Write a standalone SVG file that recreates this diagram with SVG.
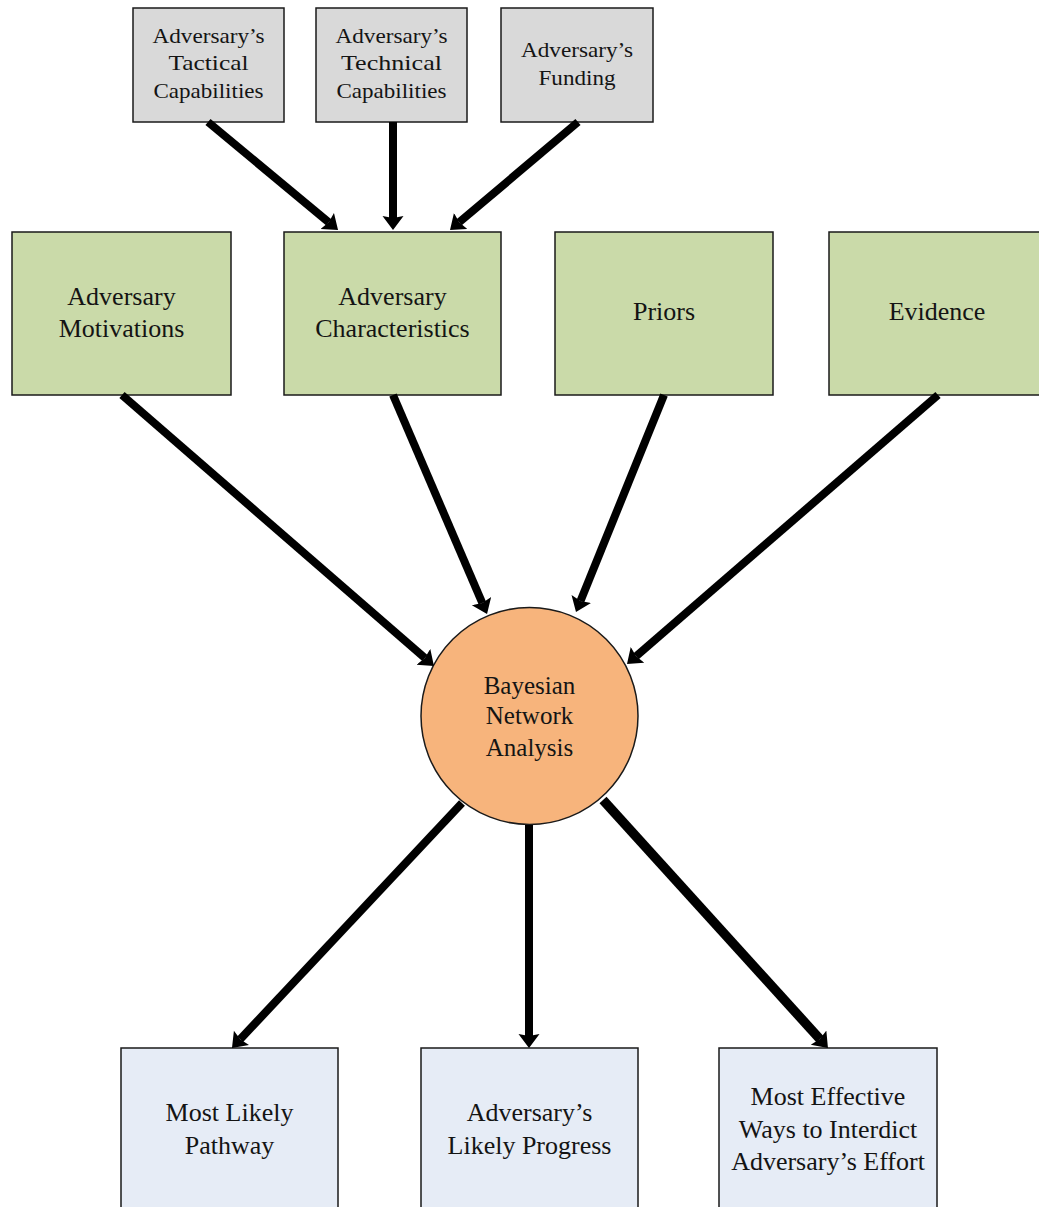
<svg xmlns="http://www.w3.org/2000/svg" width="1039" height="1207" viewBox="0 0 1039 1207">
  <style>
    .box { stroke: #1a1a1a; stroke-width: 1.5; }
    .gray { fill: #d9d9d9; }
    .green { fill: #cadaa9; }
    .blue { fill: #e6ecf6; }
    .orange { fill: #f7b47c; stroke: #1a1a1a; stroke-width: 1.5; }
    text { font-family: "Liberation Serif", "Times New Roman", serif; fill: #141414; text-anchor: middle; }
    .t-small { font-size: 22px; }
    .t-mid { font-size: 26px; }
    .t-circ { font-size: 25px; }
    .t-out { font-size: 26px; }
    .link { stroke: #000; stroke-width: 8; fill: none; marker-end: url(#head); }
    .heavy { stroke-width: 9.5; }
  </style>
  <defs>
    <marker id="head" markerUnits="userSpaceOnUse" markerWidth="16" markerHeight="22" refX="2" refY="10.5" orient="auto">
      <path d="M0,0 L14,10.5 L0,21 L2,10.5 z" fill="#000"/>
    </marker>
  </defs>
  <rect width="1039" height="1207" fill="#fff"/>

  <!-- capability / funding inputs -->
  <g id="tactical">
    <rect class="box gray" x="133" y="8" width="151" height="114"/>
    <text class="t-small" x="208.5" y="43" textLength="112" lengthAdjust="spacingAndGlyphs">Adversary’s</text>
    <text class="t-small" x="208.5" y="70" textLength="80" lengthAdjust="spacingAndGlyphs">Tactical</text>
    <text class="t-small" x="208.5" y="98" textLength="110" lengthAdjust="spacingAndGlyphs">Capabilities</text>
  </g>
  <g id="technical">
    <rect class="box gray" x="316" y="8" width="151" height="114"/>
    <text class="t-small" x="391.5" y="43" textLength="112" lengthAdjust="spacingAndGlyphs">Adversary’s</text>
    <text class="t-small" x="391.5" y="70" textLength="101" lengthAdjust="spacingAndGlyphs">Technical</text>
    <text class="t-small" x="391.5" y="98" textLength="110" lengthAdjust="spacingAndGlyphs">Capabilities</text>
  </g>
  <g id="funding">
    <rect class="box gray" x="501" y="8" width="152" height="114"/>
    <text class="t-small" x="577" y="57" textLength="112" lengthAdjust="spacingAndGlyphs">Adversary’s</text>
    <text class="t-small" x="577" y="85" textLength="77" lengthAdjust="spacingAndGlyphs">Funding</text>
  </g>

  <!-- model inputs -->
  <g id="motivations">
    <rect class="box green" x="12" y="232" width="219" height="163"/>
    <text class="t-mid" x="121.5" y="305">Adversary</text>
    <text class="t-mid" x="121.5" y="337">Motivations</text>
  </g>
  <g id="characteristics">
    <rect class="box green" x="284" y="232" width="217" height="163"/>
    <text class="t-mid" x="392.5" y="305">Adversary</text>
    <text class="t-mid" x="392.5" y="337">Characteristics</text>
  </g>
  <g id="priors">
    <rect class="box green" x="555" y="232" width="218" height="163"/>
    <text class="t-mid" x="664" y="320">Priors</text>
  </g>
  <g id="evidence">
    <rect class="box green" x="829" y="232" width="216" height="163"/>
    <text class="t-mid" x="937" y="320">Evidence</text>
  </g>

  <!-- analysis -->
  <g id="bayesian">
    <circle class="orange" cx="529.5" cy="716" r="108.5"/>
    <text class="t-circ" x="529.5" y="694">Bayesian</text>
    <text class="t-circ" x="529.5" y="724">Network</text>
    <text class="t-circ" x="529.5" y="756">Analysis</text>
  </g>

  <!-- outputs -->
  <g id="pathway">
    <rect class="box blue" x="121" y="1048" width="217" height="170"/>
    <text class="t-out" x="229.5" y="1121">Most Likely</text>
    <text class="t-out" x="229.5" y="1154">Pathway</text>
  </g>
  <g id="progress">
    <rect class="box blue" x="421" y="1048" width="217" height="170"/>
    <text class="t-out" x="529.5" y="1121">Adversary’s</text>
    <text class="t-out" x="529.5" y="1154">Likely Progress</text>
  </g>
  <g id="interdict">
    <rect class="box blue" x="719" y="1048" width="218" height="170"/>
    <text class="t-out" x="828" y="1105">Most Effective</text>
    <text class="t-out" x="828" y="1138">Ways to Interdict</text>
    <text class="t-out" x="828" y="1170">Adversary’s Effort</text>
  </g>

  <!-- connectors -->
  <g id="connectors">
    <line class="link" x1="208" y1="122" x2="328.8" y2="222.3"/>
    <line class="link" x1="393" y1="122" x2="393" y2="218"/>
    <line class="link" x1="578" y1="122" x2="459.2" y2="222.3"/>
    <line class="link" x1="122" y1="395" x2="424.9" y2="658.1"/>
    <line class="link" x1="393" y1="395" x2="482.3" y2="603"/>
    <line class="link" x1="664" y1="395" x2="580.5" y2="600.9"/>
    <line class="link" x1="938" y1="395" x2="636.1" y2="656.2"/>
    <line class="link" x1="462" y1="803" x2="240.2" y2="1039.3"/>
    <line class="link" x1="529" y1="825" x2="529" y2="1036"/>
    <line class="link heavy" x1="603" y1="800" x2="819.9" y2="1039.1"/>
  </g>
</svg>
